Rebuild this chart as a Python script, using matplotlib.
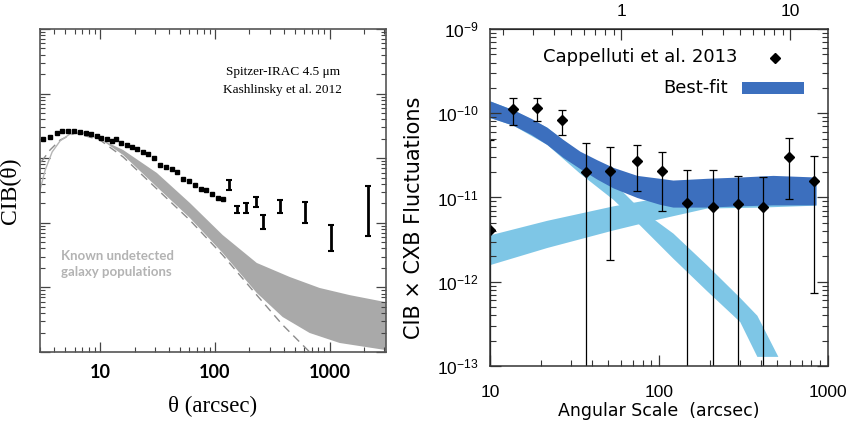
import numpy as np
import matplotlib
matplotlib.use("Agg")
import matplotlib.pyplot as plt
from matplotlib.patches import Rectangle
from matplotlib.ticker import FixedLocator, FuncFormatter, NullFormatter, LogLocator

plt.rcParams["mathtext.default"] = "regular"

# -----------------------------------------------------------
# Left panel: Spitzer-IRAC 4.5 um, Kashlinsky et al. 2012
# -----------------------------------------------------------
theta_pts = [3.21, 3.67, 4.20, 4.70, 5.30, 5.94, 6.70, 7.51, 8.35, 9.36, 10.3,
             11.5, 12.6, 13.7, 15.2, 17.1, 18.9, 21.1, 23.5, 26.3, 29.6, 33.2,
             37.5, 42.0, 47.3, 53.0, 59.7, 66.9, 75.1, 83.5, 93.6, 107, 118]
cib_pts = [0.0196, 0.0215, 0.0243, 0.0264, 0.0267, 0.0264, 0.0257, 0.0248,
           0.0234, 0.0221, 0.0208, 0.0196, 0.0187, 0.0196, 0.0170, 0.0162,
           0.0151, 0.0137, 0.0126, 0.0115, 0.00996, 0.00785, 0.00738, 0.00673,
           0.00618, 0.00482, 0.00444, 0.00385, 0.00330, 0.00322, 0.00279,
           0.00239, 0.00233]

theta_bar = [133, 156, 188, 227, 262, 372, 608, 1032, 2150]
bar_lo = [0.00322, 0.00143, 0.00142, 0.00176, 0.00079, 0.00143, 0.00100, 3.70e-4, 6.25e-4]
bar_hi = [0.00460, 0.00182, 0.00203, 0.00251, 0.00132, 0.00225, 0.00212, 9.24e-4, 3.72e-3]

# grey band: known undetected galaxy populations
band_up_theta = [10, 15.9, 31.3, 60.6, 117, 232, 449, 818, 1493, 3100]
band_up = [0.0198, 0.0134, 0.0059, 0.00203, 6.47e-4, 2.39e-4, 1.45e-4, 9.8e-5, 7.6e-5, 5.9e-5]
band_lo_theta = [10, 15.9, 31.3, 60.6, 117, 232, 390, 670, 1222, 3100]
band_lo = [0.0198, 0.0112, 0.00358, 0.00119, 3.41e-4, 8.2e-5, 3.48e-5, 1.97e-5, 1.38e-5, 1.07e-5]

dash_theta = [3.07, 3.67, 4.49, 6.07, 10, 15.9, 31.3, 60.6, 117, 232, 390, 670]
dash_cib = [0.00873, 0.0134, 0.0191, 0.0246, 0.0191, 0.01044, 0.00334, 0.0011,
            3.17e-4, 7.6e-5, 2.62e-5, 1e-5]
solid_theta = [3.0, 3.33, 3.83, 4.49, 5.48, 6.70, 10]
solid_cib = [0.00322, 0.00656, 0.0125, 0.0185, 0.0237, 0.0255, 0.0198]

# -----------------------------------------------------------
# Right panel: CIB x CXB, Cappelluti et al. 2013
# -----------------------------------------------------------
ang = [10, 13.7, 18.9, 26.5, 37.0, 51.3, 73.8, 104, 147, 208, 295, 414, 590, 830]
fluct = [4.12e-12, 1.12e-10, 1.16e-10, 8.28e-11, 2.00e-11, 2.09e-11, 2.72e-11,
         2.09e-11, 8.69e-12, 7.74e-12, 8.47e-12, 7.62e-12, 3.04e-11, 1.58e-11]
fluct_hi = [4.85e-11, 1.53e-10, 1.53e-10, 1.10e-10, 4.40e-11, 3.94e-11, 4.22e-11,
            3.44e-11, 2.14e-11, 2.14e-11, 1.80e-11, 1.73e-11, 5.15e-11, 3.08e-11]
fluct_lo = [1e-14, 7.26e-11, 8.1e-11, 5.48e-11, 1e-14, 1.80e-12, 1.21e-11,
            6.97e-12, 1e-14, 1e-14, 1e-14, 1e-14, 9.5e-12, 7.45e-13]

fit_ang = [10, 13.7, 17.5, 21.7, 27.0, 34.1, 43.0, 53.5, 74.1, 101, 121, 192, 301, 473, 850]
fit_up = [1.40e-10, 1.10e-10, 8.7e-11, 6.83e-11, 4.9e-11, 3.54e-11, 2.8e-11, 2.28e-11,
          1.83e-11, 1.69e-11, 1.61e-11, 1.69e-11, 1.75e-11, 1.83e-11, 1.75e-11]
fit_lo = [8.89e-11, 7.2e-11, 5.6e-11, 4.26e-11, 3.0e-11, 2.2e-11, 1.65e-11, 1.30e-11,
          1.0e-11, 8.3e-12, 7.69e-12, 7.69e-12, 7.96e-12, 8.17e-12, 8.17e-12]

desc_ang = [10, 13.7, 21.7, 34.1, 53.5, 77.3, 121, 192, 301, 380, 506]
desc_up = [1.40e-10, 1.10e-10, 6.83e-11, 3.36e-11, 1.52e-11, 7.3e-12, 3.78e-12,
           1.58e-12, 6.5e-13, 4.0e-13, 1.3e-13]
desc_lo = [8.89e-11, 7.2e-11, 4.26e-11, 1.93e-11, 9.5e-12, 4.67e-12, 1.9e-12,
           7.8e-13, 3.36e-13, 1.3e-13, 1.3e-13]

asc_ang = [10, 21.7, 53.5, 101, 192, 396, 850]
asc_up = [3.61e-12, 5.36e-12, 7.96e-12, 1.0e-11, 1.17e-11, 1.34e-11, 1.41e-11]
asc_lo = [1.6e-12, 2.55e-12, 4.12e-12, 5.61e-12, 7.5e-12, 7.69e-12, 8.11e-12]

dark_blue = "#3c6fbe"
light_blue = "#7ec6e6"
sans = "DejaVu Sans"
tick_font = "Liberation Sans"

fig = plt.figure(figsize=(8.51, 4.29), dpi=100)

# ---------------- left -----------------
ax1 = fig.add_axes([0.047, 0.1795, 0.4066, 0.753])
ax1.set_xscale("log")
ax1.set_yscale("log")
ax1.fill(np.r_[band_up_theta, band_lo_theta[::-1]], np.r_[band_up, band_lo[::-1]],
         color="#a9a9a9", lw=0)
ax1.plot(dash_theta, dash_cib, ls=(0, (6, 4)), color="#8c8c8c", lw=1.0)
ax1.plot(solid_theta, solid_cib, color="#b5b5b5", lw=1.0)
ax1.plot(theta_pts, cib_pts, "s", color="black", ms=2.6)
ax1.errorbar(theta_bar, bar_lo, yerr=[np.zeros(len(bar_lo)), np.subtract(bar_hi, bar_lo)],
             fmt="none", ecolor="black", elinewidth=2.0, capsize=2.5, capthick=1.5)
ax1.set_xlim(3.0, 3100)
ax1.set_ylim(1e-5, 1)
ax1.tick_params(which="both", direction="in", top=True, right=True, color="#444444")
ax1.tick_params(which="major", length=7, width=0.9, labelsize=13, pad=9)
ax1.tick_params(which="minor", length=3.5, width=0.8)
ax1.xaxis.set_major_locator(FixedLocator([10, 100, 1000]))
ax1.xaxis.set_major_formatter(FuncFormatter(lambda v, p: f"{v:g}"))
ax1.xaxis.set_minor_formatter(NullFormatter())
ax1.yaxis.set_major_formatter(NullFormatter())
ax1.yaxis.set_minor_formatter(NullFormatter())
for lab in ax1.get_xticklabels():
    lab.set_fontfamily("Lato")
    lab.set_fontweight("bold")
for s in ax1.spines.values():
    s.set_linewidth(1.2)
    s.set_color("#555555")
ax1.set_xlabel("θ (arcsec)", family="Liberation Serif", fontsize=16.5, labelpad=10)
ax1.set_ylabel("CIB(θ)", family="Liberation Serif", fontsize=17, labelpad=5)
ax1.text(0.702, 0.867, "Spitzer-IRAC 4.5 μm", transform=ax1.transAxes,
         family="Liberation Serif", fontsize=9.5, ha="center", va="center")
ax1.text(0.702, 0.811, "Kashlinsky et al. 2012", transform=ax1.transAxes,
         family="Liberation Serif", fontsize=9.5, ha="center", va="center")
ax1.text(0.061, 0.297, "Known undetected", transform=ax1.transAxes, family="Lato",
         fontweight="bold", fontsize=9.5, color="#b3b3b3", va="center")
ax1.text(0.061, 0.248, "galaxy populations", transform=ax1.transAxes, family="Lato",
         fontweight="bold", fontsize=9.5, color="#b3b3b3", va="center")

# ---------------- right -----------------
ax2 = fig.add_axes([0.5758, 0.1469, 0.397, 0.7855])
ax2.set_xscale("log")
ax2.set_yscale("log")
ax2.fill_between(asc_ang, asc_lo, asc_up, color=light_blue, lw=0)
ax2.fill_between(desc_ang, desc_lo, desc_up, color=light_blue, lw=0)
ax2.fill_between(fit_ang, fit_lo, fit_up, color=dark_blue, lw=0)
ax2.errorbar(ang, fluct, yerr=[np.subtract(fluct, fluct_lo), np.subtract(fluct_hi, fluct)],
             fmt="D", color="black", ms=5.5, elinewidth=0.9, capsize=3, capthick=0.9)
ax2.set_xlim(10, 1000)
ax2.set_ylim(1e-13, 1e-9)
ax2.tick_params(which="both", direction="in", right=True, top=False, color="#333333")
ax2.tick_params(which="major", length=8, width=0.9, labelsize=12.5)
ax2.tick_params(axis="x", which="major", pad=14)
ax2.tick_params(axis="y", which="major", pad=8)
ax2.tick_params(which="minor", length=4, width=0.8)
ax2.yaxis.set_minor_locator(LogLocator(subs=np.arange(2, 10)))
ax2.yaxis.set_minor_formatter(NullFormatter())
ax2.xaxis.set_major_formatter(FuncFormatter(lambda v, p: f"{v:g}"))
ax2.xaxis.set_minor_formatter(NullFormatter())
for lab in ax2.get_xticklabels() + ax2.get_yticklabels():
    lab.set_fontfamily(tick_font)
for s in ax2.spines.values():
    s.set_linewidth(1.1)
    s.set_color("#333333")

top = ax2.secondary_xaxis("top", functions=(lambda x: np.asarray(x) / 60.0,
                                            lambda x: np.asarray(x) * 60.0))
top.xaxis.set_major_locator(FixedLocator([1, 10]))
top.xaxis.set_major_formatter(FuncFormatter(lambda v, p: f"{v:g}"))
top.xaxis.set_minor_formatter(NullFormatter())
top.tick_params(which="both", direction="in", color="#333333", labelsize=12.5, pad=7)
top.tick_params(which="major", length=8, width=0.9)
top.tick_params(which="minor", length=4, width=0.8)
for lab in top.get_xticklabels():
    lab.set_fontfamily(tick_font)

ax2.set_xlabel("Angular Scale  (arcsec)", family=sans, fontsize=12.5, labelpad=1)
ax2.set_ylabel("CIB × CXB Fluctuations", family=sans, fontsize=15)
ax2.yaxis.set_label_coords(-0.195, 0.44)

# legend drawn by hand, like the original
ax2.text(0.444, 0.917, "Cappelluti et al. 2013", transform=ax2.transAxes,
         family=sans, fontsize=13, ha="center", va="center")
ax2.plot([0.843], [0.915], "D", color="black", ms=5.5, transform=ax2.transAxes)
ax2.text(0.704, 0.826, "Best-fit", transform=ax2.transAxes,
         family=sans, fontsize=13, ha="right", va="center")
ax2.add_patch(Rectangle((0.746, 0.808), 0.183, 0.036, transform=ax2.transAxes,
                        color=dark_blue, lw=0))

fig.savefig("out.png", dpi=100)
